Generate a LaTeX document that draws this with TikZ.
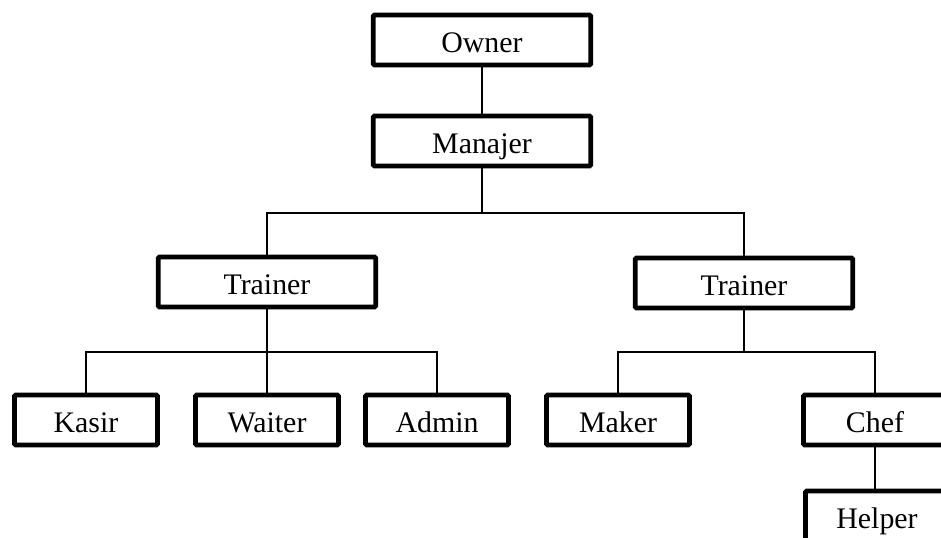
\documentclass[tikz,border=0pt]{standalone}
\usepackage{fontspec}
\setmainfont{Liberation Serif}
\usetikzlibrary{calc}
\usetikzlibrary{backgrounds}

\begin{document}
\begin{tikzpicture}[x=0.02cm, y=-0.02cm]
        \tikzstyle{unit} = [rectangle, draw, line width=2.8pt, rounded corners=0.8pt, fill=white, minimum height=1cm, inner sep=0pt, text height=14pt, text depth=0pt, font=\fontsize{17}{20}\selectfont]
        \tikzstyle{wide} = [unit, minimum width=4.35cm]
        \tikzstyle{small} = [unit, minimum width=2.86cm]
        \tikzstyle{link} = [line width=0.75pt]
        \useasboundingbox (0,0) rectangle (941,538);
        \clip (0,0) rectangle (941,538);

        \node[wide] (owner) at (482,40) {Owner};
        \node[wide] (manajer) at (482,141) {Manajer};
        \node[wide] (trainL) at (267,282) {Trainer};
        \node[wide] (trainR) at (744,283) {Trainer};
        \foreach \name/\txt/\x in {kasir/Kasir/86, waiter/Waiter/267, admin/Admin/437, maker/Maker/618, chef/Chef/875}
        {
                \node[small] (\name) at (\x,420) {\txt};
        }
        \node[small] (helper) at (877,516) {Helper};

        \coordinate (bus1) at (482,213);
        \coordinate (bus2) at (267,352);
        \coordinate (bus3) at (744,352);

        \begin{scope}[on background layer]
        \draw[link] (owner) -- (manajer);
        \draw[link] (manajer) -- (bus1);
        \draw[link] (trainL.north) |- (bus1) -| (trainR.north);
        \draw[link] (trainL) -- (waiter);
        \draw[link] (kasir.north) |- (bus2) -| (admin.north);
        \draw[link] (trainR) -- (bus3);
        \draw[link] (maker.north) |- (bus3) -| (chef.north);
        \draw[link] (chef) -- (chef |- helper.north);
        \end{scope}
\end{tikzpicture}
\end{document}
